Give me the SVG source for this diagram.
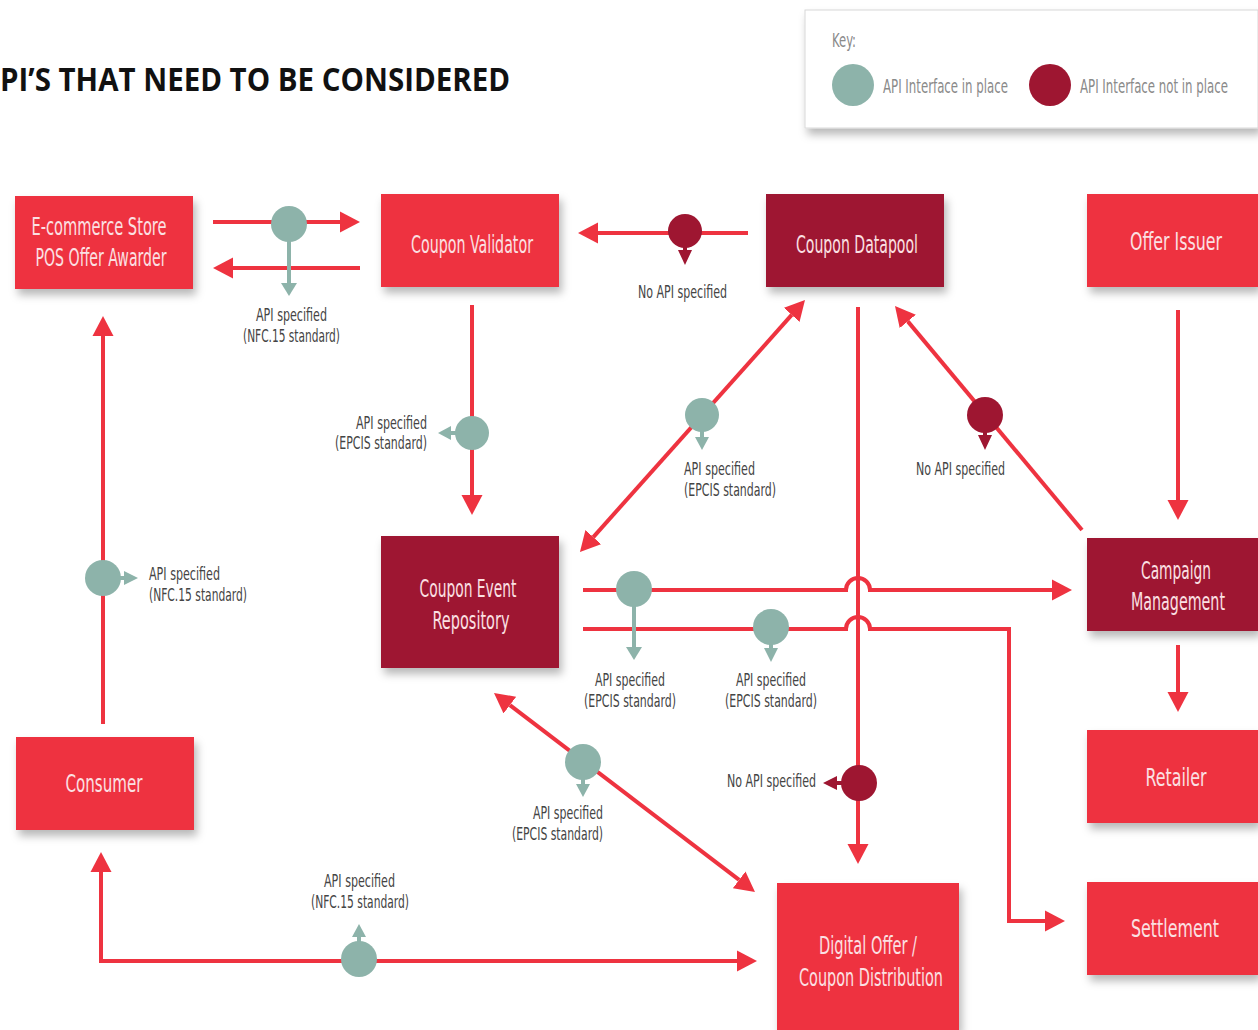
<svg xmlns="http://www.w3.org/2000/svg" width="1258" height="1030" viewBox="0 0 1258 1030">
<defs>
<filter id="sh" x="-20%" y="-20%" width="150%" height="160%">
<feDropShadow dx="3" dy="6" stdDeviation="4" flood-color="#000" flood-opacity="0.28"/>
</filter>
<marker id="ar" viewBox="0 -11 20 22" refX="0" refY="0" markerWidth="20" markerHeight="22" markerUnits="userSpaceOnUse" orient="auto-start-reverse">
<path d="M0,-10.5 L20,0 L0,10.5 z" fill="#EE3340"/>
</marker>
<style>
.red{fill:#EE3340}
.dred{fill:#9E1631}
.teal{fill:#8DB3AA}
.nt{font-family:"Liberation Sans Narrow","DejaVu Sans Condensed","Liberation Sans",sans-serif;font-size:24px;fill:#FBE0E3;text-anchor:middle}
.lb{font-family:"Liberation Sans Narrow","DejaVu Sans Condensed","Liberation Sans",sans-serif;font-size:17px;fill:#444}
.kt{font-family:"Liberation Sans Narrow","DejaVu Sans Condensed","Liberation Sans",sans-serif;font-size:20px;fill:#8a8a8a}
.ln{fill:none;stroke:#EE3340;stroke-width:4}
.ts{stroke:#8DB3AA;stroke-width:4}
.ds{stroke:#9E1631;stroke-width:4}
</style>
</defs>
<rect width="1258" height="1030" fill="#fff"/>

<text x="0" y="91" font-family="'Open Sans','Liberation Sans',sans-serif" font-weight="700" font-size="32" fill="#111" textLength="510" lengthAdjust="spacingAndGlyphs">PI’S THAT NEED TO BE CONSIDERED</text>

<g id="key">
<rect x="805" y="10" width="453" height="118" fill="#fff" stroke="#d8d8d8" stroke-width="1" filter="url(#sh)"/>
<text class="kt" x="832" y="47" textLength="24" lengthAdjust="spacingAndGlyphs">Key:</text>
<circle class="teal" cx="853" cy="85" r="21"/>
<text class="kt" x="883" y="93" textLength="125" lengthAdjust="spacingAndGlyphs">API Interface in place</text>
<circle class="dred" cx="1050" cy="85" r="21"/>
<text class="kt" x="1080" y="93" textLength="148" lengthAdjust="spacingAndGlyphs">API Interface not in place</text>
</g>

<g id="connectors">
<line class="ln" x1="213" y1="222" x2="340" y2="222" marker-end="url(#ar)"/>
<line class="ln" x1="360" y1="268" x2="233" y2="268" marker-end="url(#ar)"/>
<line class="ln" x1="748" y1="233" x2="598" y2="233" marker-end="url(#ar)"/>
<line class="ln" x1="472" y1="305" x2="472" y2="495" marker-end="url(#ar)"/>
<line class="ln" x1="593.3" y1="537.1" x2="791.7" y2="314.9" marker-start="url(#ar)" marker-end="url(#ar)"/>
<line class="ln" x1="1082" y1="530" x2="907.8" y2="321.4" marker-end="url(#ar)"/>
<line class="ln" x1="1178" y1="310" x2="1178" y2="500" marker-end="url(#ar)"/>
<line class="ln" x1="1178" y1="645" x2="1178" y2="692" marker-end="url(#ar)"/>
<line class="ln" x1="858" y1="307" x2="858" y2="844" marker-end="url(#ar)"/>
<path class="ln" d="M583,590 H846 A12,12 0 0 1 870,590 H1052" marker-end="url(#ar)"/>
<path class="ln" d="M583,629 H846 A12,12 0 0 1 870,629 H1009 V921 H1045" marker-end="url(#ar)"/>
<line class="ln" x1="103" y1="724" x2="103" y2="336" marker-end="url(#ar)"/>
<line class="ln" x1="509.9" y1="705.1" x2="739.1" y2="879.9" marker-start="url(#ar)" marker-end="url(#ar)"/>
<path class="ln" d="M101,872 V961 H737" marker-start="url(#ar)" marker-end="url(#ar)"/>

<!-- API in place indicators -->
<line class="ts" x1="289" y1="224" x2="289" y2="284"/>
<circle class="teal" cx="289" cy="224" r="18"/>
<polygon class="teal" points="281,283 297,283 289,296"/>

<line class="ts" x1="472" y1="433" x2="449" y2="433"/>
<circle class="teal" cx="472" cy="433" r="17"/>
<polygon class="teal" points="451,426 451,440 438,433"/>

<line class="ts" x1="702" y1="415" x2="702" y2="438"/>
<circle class="teal" cx="702" cy="415" r="17"/>
<polygon class="teal" points="695,437 709,437 702,450"/>

<line class="ts" x1="634" y1="589" x2="634" y2="648"/>
<circle class="teal" cx="634" cy="589" r="18"/>
<polygon class="teal" points="626,647 642,647 634,660"/>

<line class="ts" x1="771" y1="627" x2="771" y2="649"/>
<circle class="teal" cx="771" cy="627" r="18"/>
<polygon class="teal" points="764,648 778,648 771,662"/>

<line class="ts" x1="103" y1="578" x2="125" y2="578"/>
<circle class="teal" cx="103" cy="578" r="18"/>
<polygon class="teal" points="124,571 124,585 138,578"/>

<line class="ts" x1="583" y1="762" x2="583" y2="785"/>
<circle class="teal" cx="583" cy="762" r="18"/>
<polygon class="teal" points="576,784 590,784 583,797"/>

<line class="ts" x1="359" y1="959" x2="359" y2="936"/>
<circle class="teal" cx="359" cy="959" r="18"/>
<polygon class="teal" points="352,937 366,937 359,924"/>

<!-- API not in place indicators -->
<line class="ds" x1="685" y1="231" x2="685" y2="251"/>
<circle class="dred" cx="685" cy="231" r="17"/>
<polygon class="dred" points="678,250 692,250 685,265"/>

<line class="ds" x1="985" y1="415" x2="985" y2="436"/>
<circle class="dred" cx="985" cy="415" r="18"/>
<polygon class="dred" points="978,435 992,435 985,450"/>

<line class="ds" x1="859" y1="783" x2="836" y2="783"/>
<circle class="dred" cx="859" cy="783" r="18"/>
<polygon class="dred" points="837,776 837,790 823,783"/>

<!-- labels -->
<text class="lb" x="256" y="321" textLength="71" lengthAdjust="spacingAndGlyphs">API specified</text>
<text class="lb" x="243" y="342" textLength="97" lengthAdjust="spacingAndGlyphs">(NFC.15 standard)</text>

<text class="lb" x="638" y="298" textLength="89" lengthAdjust="spacingAndGlyphs">No API specified</text>

<text class="lb" x="356" y="429" textLength="71" lengthAdjust="spacingAndGlyphs">API specified</text>
<text class="lb" x="335" y="449" textLength="92" lengthAdjust="spacingAndGlyphs">(EPCIS standard)</text>

<text class="lb" x="684" y="475" textLength="71" lengthAdjust="spacingAndGlyphs">API specified</text>
<text class="lb" x="684" y="496" textLength="92" lengthAdjust="spacingAndGlyphs">(EPCIS standard)</text>

<text class="lb" x="916" y="475" textLength="89" lengthAdjust="spacingAndGlyphs">No API specified</text>

<text class="lb" x="595" y="686" textLength="70" lengthAdjust="spacingAndGlyphs">API specified</text>
<text class="lb" x="584" y="707" textLength="92" lengthAdjust="spacingAndGlyphs">(EPCIS standard)</text>

<text class="lb" x="736" y="686" textLength="70" lengthAdjust="spacingAndGlyphs">API specified</text>
<text class="lb" x="725" y="707" textLength="92" lengthAdjust="spacingAndGlyphs">(EPCIS standard)</text>

<text class="lb" x="727" y="787" textLength="89" lengthAdjust="spacingAndGlyphs">No API specified</text>

<text class="lb" x="149" y="580" textLength="71" lengthAdjust="spacingAndGlyphs">API specified</text>
<text class="lb" x="149" y="601" textLength="98" lengthAdjust="spacingAndGlyphs">(NFC.15 standard)</text>

<text class="lb" x="533" y="819" textLength="70" lengthAdjust="spacingAndGlyphs">API specified</text>
<text class="lb" x="512" y="840" textLength="91" lengthAdjust="spacingAndGlyphs">(EPCIS standard)</text>

<text class="lb" x="324" y="887" textLength="71" lengthAdjust="spacingAndGlyphs">API specified</text>
<text class="lb" x="311" y="908" textLength="98" lengthAdjust="spacingAndGlyphs">(NFC.15 standard)</text>
</g>

<g id="ecommerce">
<rect class="red" x="15" y="196" width="178" height="93" filter="url(#sh)"/>
<text class="nt" x="99" y="235" textLength="135" lengthAdjust="spacingAndGlyphs">E-commerce Store</text>
<text class="nt" x="101" y="266" textLength="131" lengthAdjust="spacingAndGlyphs">POS Offer Awarder</text>
</g>
<g id="validator">
<rect class="red" x="381" y="194" width="178" height="93" filter="url(#sh)"/>
<text class="nt" x="472" y="253" textLength="122" lengthAdjust="spacingAndGlyphs">Coupon Validator</text>
</g>
<g id="datapool">
<rect class="dred" x="766" y="194" width="178" height="93" filter="url(#sh)"/>
<text class="nt" x="857" y="253" textLength="122" lengthAdjust="spacingAndGlyphs">Coupon Datapool</text>
</g>
<g id="offer-issuer">
<rect class="red" x="1087" y="194" width="171" height="93" filter="url(#sh)"/>
<text class="nt" x="1176" y="250" textLength="92" lengthAdjust="spacingAndGlyphs">Offer Issuer</text>
</g>
<g id="event-repo">
<rect class="dred" x="381" y="536" width="178" height="132" filter="url(#sh)"/>
<text class="nt" x="468" y="597" textLength="97" lengthAdjust="spacingAndGlyphs">Coupon Event</text>
<text class="nt" x="471" y="629" textLength="77" lengthAdjust="spacingAndGlyphs">Repository</text>
</g>
<g id="campaign">
<rect class="dred" x="1087" y="538" width="171" height="93" filter="url(#sh)"/>
<text class="nt" x="1176" y="579" textLength="70" lengthAdjust="spacingAndGlyphs">Campaign</text>
<text class="nt" x="1178" y="610" textLength="94" lengthAdjust="spacingAndGlyphs">Management</text>
</g>
<g id="retailer">
<rect class="red" x="1087" y="730" width="171" height="93" filter="url(#sh)"/>
<text class="nt" x="1176" y="786" textLength="61" lengthAdjust="spacingAndGlyphs">Retailer</text>
</g>
<g id="settlement">
<rect class="red" x="1087" y="882" width="171" height="93" filter="url(#sh)"/>
<text class="nt" x="1175" y="937" textLength="88" lengthAdjust="spacingAndGlyphs">Settlement</text>
</g>
<g id="consumer">
<rect class="red" x="16" y="737" width="178" height="93" filter="url(#sh)"/>
<text class="nt" x="104" y="792" textLength="77" lengthAdjust="spacingAndGlyphs">Consumer</text>
</g>
<g id="distribution">
<rect class="red" x="777" y="883" width="182" height="147" filter="url(#sh)"/>
<text class="nt" x="868" y="954" textLength="98" lengthAdjust="spacingAndGlyphs">Digital Offer /</text>
<text class="nt" x="871" y="986" textLength="144" lengthAdjust="spacingAndGlyphs">Coupon Distribution</text>
</g>
</svg>
